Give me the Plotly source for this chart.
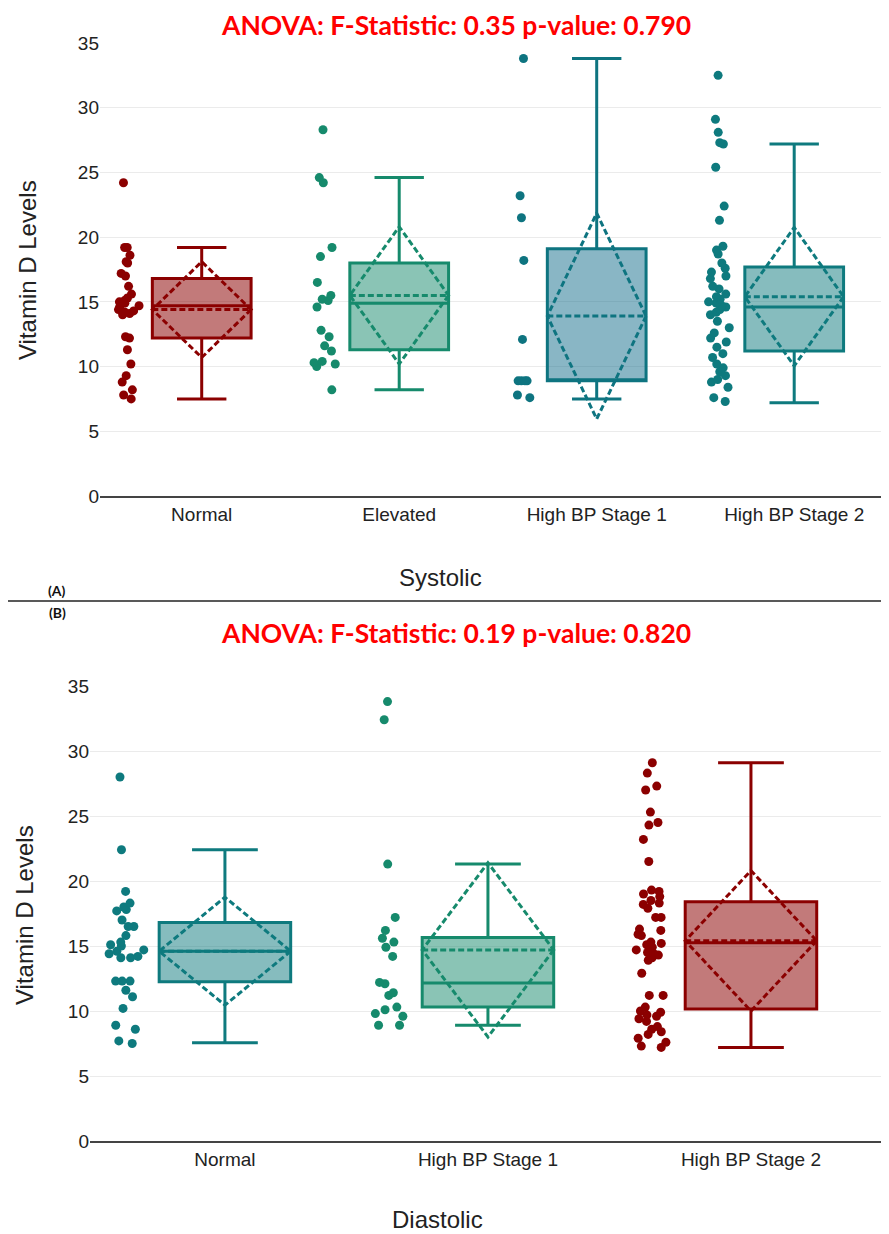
import plotly.graph_objects as go

# page offset (browser body margin) compensation
OFF = 8
W, H = 889 - OFF, 1234 - OFF

# ---------------- data ----------------
sys_cats = ["Normal", "Elevated", "High BP Stage 1", "High BP Stage 2"]
dia_cats = ["Normal", "High BP Stage 1", "High BP Stage 2"]

sys_normal = [24.2, 19.2, 19.2, 18.6, 18.1, 18.0, 17.2, 17.0, 16.2, 15.6, 15.3, 15.1,
              15.0, 14.9, 14.7, 14.6, 14.4, 14.3, 14.2, 14.1, 14.0, 12.3, 12.2, 11.3,
              10.2, 9.3, 8.8, 8.2, 7.8, 7.5]
sys_elevated = [28.3, 24.6, 24.2, 19.2, 18.5, 16.5, 15.5, 15.2, 15.1, 14.6, 12.8, 12.3,
                11.6, 11.2, 10.4, 10.3, 10.2, 10.0, 8.2]
sys_stage1 = [33.8, 23.2, 21.5, 18.2, 12.1, 8.9, 8.9, 8.9, 8.9, 7.8, 7.6]
sys_stage2 = [32.5, 29.1, 28.1, 27.3, 27.2, 25.4, 22.4, 21.3, 19.3, 19.0, 18.7, 18.0,
              17.6, 17.3, 17.0, 16.8, 16.2, 16.0, 15.6, 15.4, 15.2, 15.0, 14.9, 14.7,
              14.6, 14.4, 14.2, 14.0, 13.5, 13.0, 12.6, 12.2, 11.9, 11.5, 11.0, 10.7,
              10.2, 9.9, 9.6, 9.3, 9.0, 8.8, 8.4, 7.6, 7.3]

dia_normal = [28.0, 22.4, 19.2, 18.3, 18.0, 17.8, 17.7, 17.0, 16.5, 16.5, 15.8, 15.3,
              15.1, 15.0, 14.7, 14.6, 14.4, 14.2, 14.1, 14.1, 12.3, 12.3, 12.3, 11.6,
              11.1, 10.2, 8.9, 8.6, 7.7, 7.5]
dia_stage1 = [33.8, 32.4, 21.3, 17.2, 16.2, 15.6, 15.3, 14.9, 14.2, 12.2, 12.1, 11.4,
              11.2, 10.3, 10.1, 9.8, 9.6, 8.9, 8.9]
dia_stage2 = [29.1, 28.3, 27.3, 27.0, 25.3, 24.5, 24.3, 23.2, 21.5, 19.3, 19.2, 19.0,
              18.8, 18.5, 18.3, 18.2, 17.9, 17.2, 17.2, 16.3, 16.2, 15.9, 15.8, 15.3,
              15.2, 15.1, 14.9, 14.7, 14.5, 14.4, 14.3, 14.1, 13.9, 12.9, 11.2, 11.2,
              10.3, 10.0, 9.9, 9.7, 9.6, 9.4, 9.2, 8.8, 8.6, 8.4, 8.2, 7.9, 7.6, 7.3, 7.2]

# box statistics as drawn
sys_q1 = [12.2, 11.3, 8.9, 11.2]
sys_median = [14.7, 14.9, 8.9, 14.6]
sys_q3 = [16.8, 18.0, 19.1, 17.7]
sys_lower = [7.5, 8.2, 7.5, 7.2]
sys_upper = [19.2, 24.6, 33.8, 27.2]
sys_mean = [14.4, 15.5, 13.9, 15.4]
sys_sd = [3.7, 5.3, 7.95, 5.35]

dia_q1 = [12.25, 10.3, 10.15]
dia_median = [14.6, 12.15, 15.25]
dia_q3 = [16.8, 15.65, 18.4]
dia_lower = [7.55, 8.9, 7.2]
dia_upper = [22.4, 21.3, 29.1]
dia_mean = [14.6, 14.7, 15.4]
dia_sd = [4.15, 6.7, 5.4]

sys_title = "ANOVA: F-Statistic: 0.35 p-value: 0.790"
dia_title = "ANOVA: F-Statistic: 0.19 p-value: 0.820"

RED = ("#8B0000", "rgba(139,0,0,0.52)")
GREEN = ("#168A6C", "rgba(22,138,108,0.5)")
TEAL = ("#0E7A7E", "rgba(14,122,126,0.5)")
TEALB = ("#0E7480", "rgba(20,110,140,0.5)")
sys_colors = [RED, GREEN, TEALB, TEAL]
dia_colors = [TEAL, GREEN, RED]

fig = go.Figure()


def add_group(cats, points, q1, med, q3, lo, up, mean, sd, colors, xa, ya, jit):
    for i, cat in enumerate(cats):
        line_c, fill_c = colors[i]
        fig.add_trace(go.Box(
            x=[cat], q1=[q1[i]], median=[med[i]], q3=[q3[i]],
            lowerfence=[lo[i]], upperfence=[up[i]], mean=[mean[i]], sd=[sd[i]],
            boxmean="sd", boxpoints=False, width=0.5, whiskerwidth=0.5,
            fillcolor=fill_c, line=dict(color=line_c, width=3),
            xaxis=xa, yaxis=ya, showlegend=False))
        fig.add_trace(go.Box(
            x=[cat] * len(points[i]), y=points[i], boxpoints="all",
            jitter=jit, pointpos=-1.5, width=0.5,
            fillcolor="rgba(0,0,0,0)", line=dict(color="rgba(0,0,0,0)", width=0),
            marker=dict(color=line_c, size=9, line=dict(width=0)),
            xaxis=xa, yaxis=ya, showlegend=False))


add_group(sys_cats, [sys_normal, sys_elevated, sys_stage1, sys_stage2],
          sys_q1, sys_median, sys_q3, sys_lower, sys_upper, sys_mean, sys_sd,
          sys_colors, "x", "y", 0.28)
add_group(dia_cats, [dia_normal, dia_stage1, dia_stage2],
          dia_q1, dia_median, dia_q3, dia_lower, dia_upper, dia_mean, dia_sd,
          dia_colors, "x2", "y2", 0.3)


def px(x):
    return (x - OFF) / W


def py(y):
    return 1 - (y - OFF) / H


tickfont = dict(family="Arial, Liberation Sans, sans-serif", size=19, color="#222")
xcommon = dict(type="category", showline=True, linecolor="#444", linewidth=2,
               showgrid=False, zeroline=False, ticks="", tickfont=tickfont, automargin=False)
ycommon = dict(range=[0, 35], dtick=5, showgrid=True, gridcolor="#EBEBEB", gridwidth=1,
               zeroline=False, showline=False, ticks="", tickfont=tickfont, automargin=False)

fig.update_layout(
    width=W, height=H, margin=dict(l=0, r=0, t=0, b=0),
    paper_bgcolor="white", plot_bgcolor="white", boxmode="overlay", showlegend=False,
    xaxis=dict(xcommon, domain=[px(100), 1], range=[-0.515, 3.48], anchor="y",
               categoryorder="array", categoryarray=sys_cats),
    yaxis=dict(ycommon, domain=[py(496), py(43)], anchor="x"),
    xaxis2=dict(xcommon, domain=[px(90), px(883)], range=[-0.513, 2.502], anchor="y2",
                categoryorder="array", categoryarray=dia_cats),
    yaxis2=dict(ycommon, domain=[py(1141), py(686)], anchor="x2"),
)

title_font = dict(family="Lato, Open Sans, sans-serif", size=26.5, color="#FF0000")
label_font = dict(family="Arial, Liberation Sans, sans-serif", size=24, color="#222")
ann = [
    dict(text="<b>%s</b>" % sys_title, x=px(456), y=1.0, yanchor="top", borderpad=0,
         font=title_font),
    dict(text="<b>%s</b>" % dia_title, x=px(456), y=py(633), font=title_font),
    dict(text="Systolic", x=px(440), y=py(577), font=label_font),
    dict(text="Diastolic", x=px(437), y=py(1219), font=label_font),
    dict(text="Vitamin D Levels", x=px(27), y=py(270), font=label_font, textangle=-90),
    dict(text="Vitamin D Levels", x=px(24), y=py(915), font=label_font, textangle=-90),
    dict(text="<b>(A)</b>", x=px(57), y=py(590),
         font=dict(family="Lato, sans-serif", size=14, color="#111")),
    dict(text="<b>(B)</b>", x=px(57), y=py(613),
         font=dict(family="Lato, sans-serif", size=14, color="#111")),
]
for a in ann:
    a.setdefault("yanchor", "middle")
    a.update(xref="paper", yref="paper", showarrow=False, xanchor="center")
fig.update_layout(annotations=ann)

fig.add_shape(type="line", xref="paper", yref="paper", x0=-0.02, x1=1.02,
              y0=py(601), y1=py(601), line=dict(color="#222", width=1.5))

fig.write_html("out.html")
